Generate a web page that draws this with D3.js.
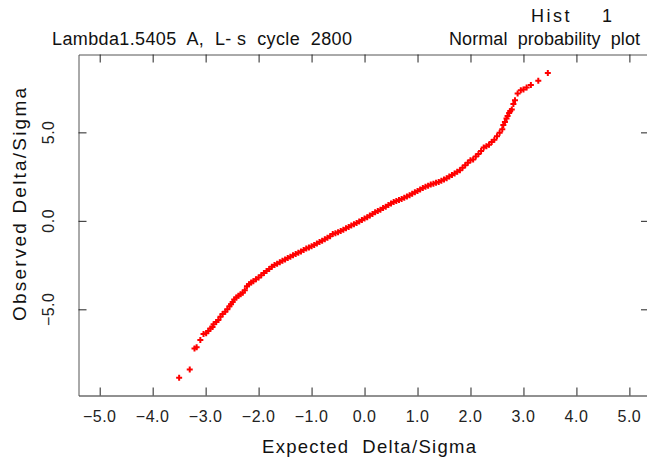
<!DOCTYPE html>
<html lang="en">
<head>
    <meta charset="UTF-8">
    <title>Normal probability plot</title>
    <script src="https://d3js.org/d3.v7.min.js"></script>
    <style>
        body { margin: 0; background: #fff; }
        svg { display: block; font-family: "Liberation Sans", Arial, sans-serif; }
        svg text { white-space: pre; }
    </style>
</head>
<body>
    <svg></svg>

    <script>
        // values (expected vs observed delta/sigma)
        const expected = [
            -3.50, -3.30, -3.21, -3.17, -3.10, -3.04, -2.99, -2.95, -2.91, -2.87,
            -2.85, -2.80, -2.76, -2.72, -2.68, -2.63, -2.59, -2.55, -2.52, -2.49,
            -2.46, -2.42, -2.38, -2.34, -2.30, -2.26, -2.22, -2.18, -2.14, -2.10,
            -2.05, -2.00, -1.95, -1.90, -1.85, -1.80, -1.75, -1.70, -1.65, -1.60,
            -1.55, -1.50, -1.45, -1.40, -1.35, -1.30, -1.25, -1.20, -1.15, -1.10,
            -1.05, -1.00, -0.95, -0.90, -0.85, -0.80, -0.75, -0.70, -0.65, -0.60,
            -0.55, -0.50, -0.45, -0.40, -0.35, -0.30, -0.25, -0.20, -0.15, -0.10,
            -0.05, 0.00, 0.05, 0.10, 0.15, 0.20, 0.25, 0.30, 0.35, 0.40,
            0.45, 0.50, 0.55, 0.60, 0.65, 0.70, 0.75, 0.80, 0.85, 0.90,
            0.95, 1.00, 1.05, 1.10, 1.15, 1.20, 1.25, 1.30, 1.35, 1.40,
            1.45, 1.50, 1.55, 1.60, 1.65, 1.70, 1.75, 1.80, 1.85, 1.90,
            1.95, 2.00, 2.05, 2.10, 2.15, 2.20, 2.25, 2.30, 2.35, 2.40,
            2.45, 2.50, 2.55, 2.60, 2.62, 2.65, 2.68, 2.70, 2.73, 2.75,
            2.78, 2.81, 2.84, 2.89, 2.95, 3.00, 3.06, 3.14, 3.28, 3.46
        ];
        const observed = [
            -8.87, -8.40, -7.21, -7.14, -6.74, -6.40, -6.35, -6.22, -6.08, -6.00,
            -5.84, -5.72, -5.61, -5.42, -5.27, -5.14, -4.99, -4.82, -4.71, -4.58,
            -4.45, -4.33, -4.24, -4.15, -4.06, -3.92, -3.70, -3.58, -3.49, -3.42,
            -3.30, -3.20, -3.08, -2.95, -2.83, -2.72, -2.60, -2.49, -2.42, -2.34,
            -2.26, -2.18, -2.10, -2.03, -1.95, -1.88, -1.81, -1.73, -1.65, -1.57,
            -1.50, -1.44, -1.36, -1.28, -1.20, -1.13, -1.04, -0.96, -0.87, -0.75,
            -0.70, -0.64, -0.58, -0.50, -0.42, -0.35, -0.27, -0.19, -0.12, -0.04,
            0.05, 0.13, 0.21, 0.30, 0.39, 0.48, 0.55, 0.63, 0.72, 0.80,
            0.90, 0.98, 1.06, 1.12, 1.18, 1.24, 1.31, 1.37, 1.45, 1.53,
            1.61, 1.69, 1.77, 1.85, 1.92, 1.99, 2.05, 2.10, 2.15, 2.20,
            2.26, 2.33, 2.41, 2.50, 2.59, 2.68, 2.77, 2.86, 3.00, 3.14,
            3.28, 3.42, 3.46, 3.63, 3.78, 3.95, 4.15, 4.22, 4.30, 4.46,
            4.58, 4.78, 4.98, 5.18, 5.41, 5.59, 5.78, 5.92, 6.10, 6.21,
            6.29, 6.60, 6.82, 7.19, 7.38, 7.42, 7.53, 7.67, 7.92, 8.36
        ];

        const xTicks = [-5, -4, -3, -2, -1, 0, 1, 2, 3, 4, 5];
        const yTicks = [-5, 0, 5];

        const titleLeft = 'Lambda1.5405  A,  L- s  cycle  2800';
        const titleRight1 = 'Hist    1';
        const titleRight2 = 'Normal  probability  plot';
        const xLabel = 'Expected  Delta/Sigma';
        const yLabel = 'Observed Delta/Sigma';

        const width = 647;
        const height = 463;
        const frame = {left: 78.5, top: 54.5, right: 649, bottom: 395.5};

        const svg = d3.select('svg')
            .attr('width', width)
            .attr('height', height);

        const x_scale = d3.scaleLinear().domain([-5.4, 5.37]).range([frame.left, frame.right]);
        const y_scale = d3.scaleLinear().domain([-9.87, 9.4]).range([frame.bottom, frame.top]);

        const fmt = d3.format('.1f');
        const tickLen = 8;

        // frame with inward ticks on all four sides
        svg.append('g')
            .attr('transform', `translate(0,${frame.bottom})`)
            .call(d3.axisTop(x_scale).tickValues(xTicks).tickSize(tickLen).tickSizeOuter(0).tickFormat(''))
            .call(g => g.select('.domain').attr('stroke', '#222'));

        svg.append('g')
            .attr('transform', `translate(0,${frame.top})`)
            .call(d3.axisBottom(x_scale).tickValues(xTicks).tickSize(tickLen).tickSizeOuter(0).tickFormat(''))
            .call(g => g.select('.domain').attr('stroke', '#555'));

        svg.append('g')
            .attr('transform', `translate(${frame.left},0)`)
            .call(d3.axisRight(y_scale).tickValues(yTicks).tickSize(tickLen).tickSizeOuter(0).tickFormat(''))
            .call(g => g.select('.domain').attr('stroke', '#555'));

        svg.append('g')
            .attr('transform', `translate(${frame.right},0)`)
            .call(d3.axisLeft(y_scale).tickValues(yTicks).tickSize(tickLen).tickSizeOuter(0).tickFormat(''))
            .call(g => g.select('.domain').attr('stroke', '#555'));

        svg.selectAll('.tick line').attr('stroke', '#222');

        // tick labels
        svg.append('g')
            .selectAll('text')
            .data(xTicks)
            .join('text')
            .attr('x', d => x_scale(d))
            .attr('y', 422)
            .attr('text-anchor', 'middle')
            .style('font-size', '16px')
            .style('letter-spacing', '0.5px')
            .attr('fill', '#222')
            .text(d => fmt(d));

        svg.append('g')
            .selectAll('text')
            .data(yTicks)
            .join('text')
            .attr('transform', d => `translate(54,${y_scale(d)}) rotate(-90)`)
            .attr('text-anchor', 'middle')
            .style('font-size', '16px')
            .style('letter-spacing', '0.5px')
            .attr('fill', '#222')
            .text(d => fmt(d));

        // axis titles
        svg.append('text')
            .attr('x', 262)
            .attr('y', 453)
            .attr('textLength', 214)
            .attr('lengthAdjust', 'spacing')
            .style('font-size', '18.5px')
            .attr('fill', '#111')
            .text(xLabel);

        svg.append('text')
            .attr('transform', 'translate(25.5,321) rotate(-90)')
            .attr('textLength', 233)
            .attr('lengthAdjust', 'spacing')
            .style('font-size', '19px')
            .attr('fill', '#111')
            .text(yLabel);

        // header texts
        svg.append('text')
            .attr('x', 52)
            .attr('y', 45)
            .attr('textLength', 300)
            .attr('lengthAdjust', 'spacing')
            .style('font-size', '18px')
            .attr('fill', '#111')
            .text(titleLeft);

        svg.append('text')
            .attr('x', 449)
            .attr('y', 45)
            .attr('textLength', 191)
            .attr('lengthAdjust', 'spacing')
            .style('font-size', '18px')
            .attr('fill', '#111')
            .text(titleRight2);

        svg.append('text')
            .attr('x', 531)
            .attr('y', 22)
            .attr('textLength', 81)
            .attr('lengthAdjust', 'spacing')
            .style('font-size', '18px')
            .attr('fill', '#111')
            .text(titleRight1);

        // points as red plus signs
        const points = expected.map((e, i) => ({e: e, o: observed[i]}));

        svg.append('g')
            .selectAll('path')
            .data(points)
            .join('path')
            .attr('transform', d => `translate(${x_scale(d.e)},${y_scale(d.o)})`)
            .attr('d', 'M-3,0H3M0,-3V3')
            .attr('stroke', '#ff0000')
            .attr('stroke-width', 2)
            .attr('fill', 'none');
    </script>
</body>
</html>
